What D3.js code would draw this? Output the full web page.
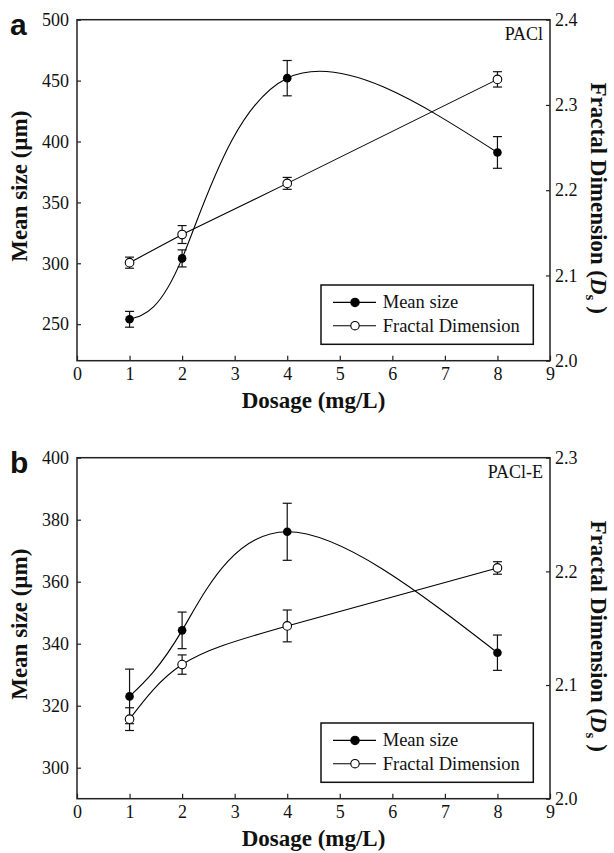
<!DOCTYPE html>
<html>
<head>
<meta charset="utf-8">
<title>Mean size and fractal dimension vs dosage</title>
<script src="https://cdn.jsdelivr.net/npm/d3@7/dist/d3.min.js"></script>
<style>
body { margin: 0; background: #fff; }
text { font-family: "Liberation Serif", "Times New Roman", serif; fill: #111; }
.tick text { font-size: 18px; }
.tick line { stroke: #222; stroke-width: 1.2; }
.title { font-size: 23px; font-weight: bold; }
.letter { font-family: "Liberation Sans", Arial, sans-serif; font-size: 30px; font-weight: bold; }
</style>
</head>
<body>
<script>
// data
var dosage = [1, 2, 4, 8];
var seriesNames = ["Mean size", "Fractal Dimension"];
var panelLetters = ["a", "b"];
var panelNames = ["PACl", "PACl-E"];

var sizeA = [254, 304, 452, 391];
var sizeAErr = [6.5, 7, 14.5, 13];
var fdA = [2.115, 2.148, 2.208, 2.330];
var fdAErr = [0.0065, 0.0105, 0.007, 0.009];

var sizeB = [323, 344.3, 376.1, 337.1];
var sizeBErr = [8.8, 5.9, 9.2, 5.7];
var fdB = [2.070, 2.118, 2.152, 2.203];
var fdBErr = [0.010, 0.0085, 0.014, 0.0055];

var xTicks = [0, 1, 2, 3, 4, 5, 6, 7, 8, 9];
var sizeTicksA = [250, 300, 350, 400, 450, 500];
var fdTicksA = [2.0, 2.1, 2.2, 2.3, 2.4];
var sizeTicksB = [300, 320, 340, 360, 380, 400];
var fdTicksB = [2.0, 2.1, 2.2, 2.3];

var w = 614, h = 853;
var left = 77, plotW = 473, plotH = 341;

var svg = d3.select("body").append("svg").attr("width", w).attr("height", h);

function panel(top, idx, size, sizeErr, fd, fdErr, sizeDomain, fdDomain, sizeTicks, fdTicks, fdCurve) {
	var g = svg.append("g").attr("transform", "translate(" + left + "," + top + ")");
	var x = d3.scaleLinear().domain([0, 9]).range([0, plotW]);
	var yl = d3.scaleLinear().domain(sizeDomain).range([plotH, 0]);
	var yr = d3.scaleLinear().domain(fdDomain).range([plotH, 0]);

	var xa = g.append("g").attr("transform", "translate(0," + plotH + ")")
		.call(d3.axisBottom(x).tickValues(xTicks).tickSizeInner(-5).tickSizeOuter(0).tickPadding(7));
	var la = g.append("g")
		.call(d3.axisLeft(yl).tickValues(sizeTicks).tickSizeInner(-4).tickSizeOuter(0).tickPadding(8));
	var ra = g.append("g").attr("transform", "translate(" + plotW + ",0)")
		.call(d3.axisRight(yr).tickValues(fdTicks).tickFormat(d3.format(".1f")).tickSizeInner(-4).tickSizeOuter(0).tickPadding(5));
	xa.select(".domain").remove(); la.select(".domain").remove(); ra.select(".domain").remove();
	g.selectAll(".tick text").attr("fill", "#111");

	g.append("rect").attr("width", plotW).attr("height", plotH)
		.attr("fill", "none").attr("stroke", "#222").attr("stroke-width", 1.5);

	// mean size curve
	var sizePts = dosage.map(function(d, i){ return [x(d), yl(size[i])]; });
	g.append("path").attr("d", d3.line().curve(d3.curveNatural)(sizePts))
		.attr("fill", "none").attr("stroke", "#000").attr("stroke-width", 1.1);
	var fdPts = dosage.map(function(d, i){ return [x(d), yr(fd[i])]; });
	g.append("path").attr("d", d3.line().curve(fdCurve)(fdPts))
		.attr("fill", "none").attr("stroke", "#000").attr("stroke-width", 1.1);

	function errbars(vals, errs, y) {
		dosage.forEach(function(d, i){
			var cx = x(d), y0 = y(vals[i] - errs[i]), y1 = y(vals[i] + errs[i]);
			g.append("line").attr("x1", cx).attr("x2", cx).attr("y1", y0).attr("y2", y1)
				.attr("stroke", "#111").attr("stroke-width", 1.2);
			[y0, y1].forEach(function(yy){
				g.append("line").attr("x1", cx - 4.5).attr("x2", cx + 4.5).attr("y1", yy).attr("y2", yy)
					.attr("stroke", "#111").attr("stroke-width", 1.2);
			});
		});
	}
	errbars(size, sizeErr, yl);
	errbars(fd, fdErr, yr);

	g.selectAll(".msz").data(size).enter().append("circle")
		.attr("cx", function(d, i){ return x(dosage[i]); })
		.attr("cy", function(d){ return yl(d); })
		.attr("r", 4.3).attr("fill", "#000");
	g.selectAll(".fdm").data(fd).enter().append("circle")
		.attr("cx", function(d, i){ return x(dosage[i]); })
		.attr("cy", function(d){ return yr(d); })
		.attr("r", 4.3).attr("fill", "#fff").attr("stroke", "#000").attr("stroke-width", 1.1);

	// legend
	var lg = g.append("g").attr("transform", "translate(244,265.3)");
	lg.append("rect").attr("width", 212.3).attr("height", 59.3)
		.attr("fill", "#fff").attr("stroke", "#111").attr("stroke-width", 1.5);
	seriesNames.forEach(function(name, i){
		var yy = 17.4 + i * 23.3;
		lg.append("line").attr("x1", 12).attr("x2", 55).attr("y1", yy).attr("y2", yy)
			.attr("stroke", "#000").attr("stroke-width", 1.1);
		lg.append("circle").attr("cx", 34).attr("cy", yy).attr("r", 4.2)
			.attr("fill", i == 0 ? "#000" : "#fff").attr("stroke", "#000").attr("stroke-width", 1.1);
		lg.append("text").attr("x", 61.7).attr("y", yy + 6).attr("font-size", 18.5).text(name);
	});

	g.append("text").attr("x", plotW - 7).attr("y", 20).attr("text-anchor", "end")
		.attr("font-size", 18).text(panelNames[idx]);

	// titles
	g.append("text").attr("class", "title").attr("text-anchor", "middle")
		.attr("transform", "translate(" + (-50) + "," + (plotH / 2 - 4) + ") rotate(-90)")
		.text("Mean size (\u00b5m)");
	var rt = g.append("text").attr("class", "title").attr("text-anchor", "middle")
		.attr("transform", "translate(" + (plotW + 41) + "," + (plotH / 2 + 8) + ") rotate(90)");
	rt.append("tspan").text("Fractal Dimension (");
	rt.append("tspan").attr("font-style", "italic").text("D");
	rt.append("tspan").attr("font-size", 15).attr("dy", 5).text("s");
	rt.append("tspan").attr("dy", -5).text(" )");
	g.append("text").attr("class", "title").attr("text-anchor", "middle")
		.attr("x", plotW / 2).attr("y", plotH + 47).text("Dosage (mg/L)");

	g.append("text").attr("class", "letter").attr("x", -67).attr("y", 15).text(panelLetters[idx]);
}

panel(19.7, 0, sizeA, sizeAErr, fdA, fdAErr, [220, 500], [2.0, 2.4], sizeTicksA, fdTicksA, d3.curveLinear);
panel(457.7, 1, sizeB, sizeBErr, fdB, fdBErr, [290, 400], [2.0, 2.3], sizeTicksB, fdTicksB, d3.curveNatural);
</script>
</body>
</html>
